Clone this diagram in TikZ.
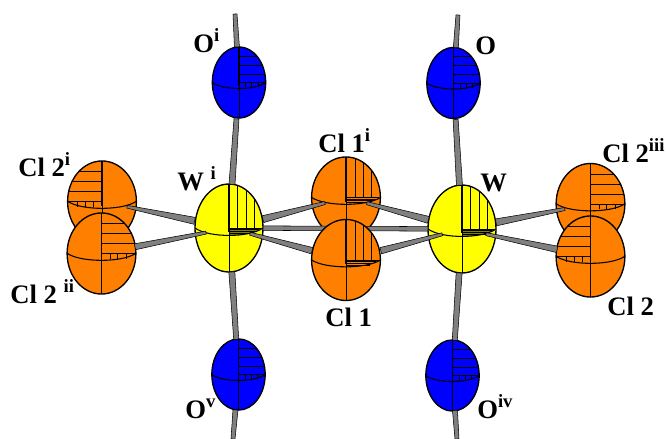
\documentclass[tikz,border=0pt]{standalone}
\usepackage{fontspec}
\setmainfont{Liberation Serif}
\usetikzlibrary{calc,shapes.geometric}

\definecolor{clcolor}{RGB}{255,128,0}
\definecolor{wcolor}{RGB}{255,255,0}
\definecolor{ocolor}{RGB}{0,0,255}

\tikzset{
	oatom/.style={ellipse, draw, line width=1pt, inner sep=0, fill=ocolor, minimum width=40pt, minimum height=53.4pt},
	watom/.style={ellipse, draw, line width=1pt, inner sep=0, fill=wcolor, minimum width=51pt, minimum height=66pt},
	clatom/.style={ellipse, draw, line width=1pt, inner sep=0, fill=clcolor, minimum width=51.6pt, minimum height=60.8pt},
	bondline/.style={draw=black, line width=0.4pt, fill=black!50, line join=round},
	hatchline/.style={line width=0.6pt},
	atomlabel/.style={anchor=base west, inner sep=0, font=\fontsize{20}{20}\selectfont\bfseries},
}

\newcommand{\sy}[1]{\raisebox{0.38em}{\fontsize{14}{14}\selectfont #1}}

\newcommand{\atomlines}{
	\draw[line width=0.8pt] (-1, 0) .. controls (-0.6, 0.225) and (0.6, 0.225) .. (1, 0);
	\draw[line width=0.7pt] (0, 0) to (0, 1);
	\draw[line width=1.2pt] (0, -1) to (0, 0.1);
}

\newcommand{\hatchrows}[4]{
	\begin{scope}[shift={(#1.center)}, xscale=#2, yscale=#3]
		\begin{scope}
			\clip (0, 0) circle (1);
			\begin{scope}[xscale=#4]
				\foreach \rowy in {-0.74, -0.49, -0.24, 0}
					\draw[hatchline] (0, \rowy) to (1, \rowy);
				\foreach \colx in {0.25, 0.48, 0.72}
					\draw[hatchline] (\colx, 0) to (\colx, 0.13);
			\end{scope}
		\end{scope}
		\atomlines
	\end{scope}
}

\newcommand{\hatchcols}[4]{
	\begin{scope}[shift={(#1.center)}, xscale=#2, yscale=#3]
		\begin{scope}
			\clip (0, 0) circle (1);
			\foreach \colx in {0.26, 0.51, 0.75}
				\draw[hatchline] (\colx, -1) to (\colx, 0);
			\fill[#4] (0, 0) to (1, 0) .. controls (0.8, 0.1125) and (0.4, 0.169) .. (0, 0.169) -- cycle;
			\foreach \rowy in {0, 0.04, 0.08, 0.12}
				\draw[line width=0.4pt] (0, \rowy) to (0.95 - 2*\rowy, \rowy);
		\end{scope}
		\atomlines
	\end{scope}
}

\newcommand{\bond}[6]{
	\path (#1.center) -- (#2.center) coordinate[pos=#3] (bs) coordinate[pos=#4] (be);
	\draw[bondline] ($(bs)!#5*0.375pt!90:(be)$) to ($(be)!#6*0.375pt!-90:(bs)$) to ($(be)!#6*0.375pt!90:(bs)$) to ($(bs)!#5*0.375pt!-90:(be)$) -- cycle;
}

\begin{document}
\begin{tikzpicture}[x=0.75pt, y=-0.75pt]
	\useasboundingbox (0, 0) rectangle (668, 439);

	\coordinate (topOi) at (235, 14);
	\coordinate (topO) at (458, 15);
	\coordinate (botOv) at (233, 439);
	\coordinate (botOiv) at (457, 439);

	\node[clatom] (Cl2i) at (102, 201.5) {};
	\hatchrows{Cl2i}{34}{40.5}{-1}
	\node[clatom] (Cl2ii) at (101.5, 253.5) {};
	\hatchrows{Cl2ii}{34}{40.5}{1}
	\node[clatom] (Cl2iii) at (590.5, 204) {};
	\hatchrows{Cl2iii}{34}{40.5}{1}
	\node[clatom] (Cl2) at (590.5, 256.5) {};
	\hatchrows{Cl2}{34}{40.5}{-1}

	\node[clatom] (Cl1i) at (346, 197.5) {};
	\hatchcols{Cl1i}{34.4}{40.5}{clcolor}

	\node[watom] (Wi) at (229, 228) {};
	\hatchcols{Wi}{34}{44}{black!50!wcolor}
	\node[watom] (W) at (462, 229) {};
	\hatchcols{W}{34}{44}{black!50!wcolor}

	\bond{Wi}{W}{0.146}{0.854}{4.5}{4.5}

	\node[clatom] (Cl1) at (346, 260) {};
	\hatchcols{Cl1}{34.4}{40.5}{clcolor}

	\node[oatom] (Oi) at (239, 82.5) {};
	\hatchrows{Oi}{26.7}{35.6}{1}
	\node[oatom] (O) at (453.5, 83) {};
	\hatchrows{O}{26.7}{35.6}{1}
	\node[oatom] (Ov) at (238.5, 374.5) {};
	\hatchrows{Ov}{26.7}{35.6}{1}
	\node[oatom] (Oiv) at (452.5, 375.5) {};
	\hatchrows{Oiv}{26.7}{35.6}{1}

	\bond{topOi}{Oi}{0}{0.48}{4}{5}
	\bond{topO}{O}{0}{0.48}{4}{5}
	\bond{Ov}{botOv}{0.55}{1}{5}{4}
	\bond{Oiv}{botOiv}{0.55}{1}{5}{4}
	\bond{Oi}{Wi}{0.25}{0.70}{5}{6}
	\bond{O}{W}{0.25}{0.70}{5}{6}
	\bond{Wi}{Ov}{0.30}{0.76}{6}{5}
	\bond{W}{Oiv}{0.30}{0.76}{6}{5}

	\bond{Cl2i}{Wi}{0.197}{0.73}{2.7}{7}
	\bond{Cl2ii}{Wi}{0.263}{0.82}{6}{3}
	\bond{Wi}{Cl1i}{0.29}{0.82}{7}{3}
	\bond{Wi}{Cl1}{0.18}{0.71}{3}{6.5}
	\bond{Cl1i}{W}{0.18}{0.71}{3}{7}
	\bond{Cl1}{W}{0.30}{0.83}{6.5}{3}
	\bond{W}{Cl2iii}{0.265}{0.80}{7}{3}
	\bond{W}{Cl2}{0.187}{0.74}{3}{6.5}

	\node[atomlabel] (lblOi) at (193, 52) {O\sy{i}};
	\node[atomlabel] (lblO) at (475, 55) {O};
	\node[atomlabel] (lblCl2i) at (18, 176) {Cl 2\sy{i}};
	\node[atomlabel] (lblWi) at (177, 190) {W \sy{i}};
	\node[atomlabel] (lblCl2ii) at (10, 303) {Cl 2 \sy{ii}};
	\node[atomlabel] (lblCl1i) at (318, 152) {Cl 1\sy{i}};
	\node[atomlabel] (lblW) at (480, 191) {W};
	\node[atomlabel] (lblCl2iii) at (602, 162) {Cl 2\sy{iii}};
	\node[atomlabel] (lblCl1) at (325, 326) {Cl 1};
	\node[atomlabel] (lblCl2) at (607, 315) {Cl 2};
	\node[atomlabel] (lblOv) at (185, 418) {O\sy{v}};
	\node[atomlabel] (lblOiv) at (477, 418) {O\sy{iv}};
\end{tikzpicture}
\end{document}
